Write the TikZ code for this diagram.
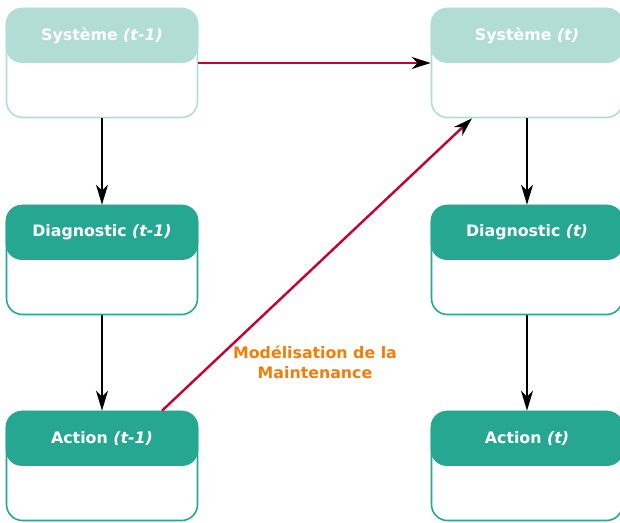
\documentclass[tikz,border=0pt]{standalone}
\usepackage{fontspec}
\setmainfont{DejaVu Sans}
\usetikzlibrary{arrows.meta,calc}
\definecolor{lightteal}{HTML}{B2DDD4}
\definecolor{darkteal}{HTML}{26A792}
\definecolor{linkred}{HTML}{C8002E}
\definecolor{labelorange}{HTML}{F07E0A}
\begin{document}
\begin{tikzpicture}[x=1pt,y=-1pt,
  boxbody/.style={draw=#1, fill=white, line width=1.6pt, rounded corners=16pt,
    minimum width=191pt, minimum height=109pt, inner sep=0pt},
  boxhead/.style={fill=#1, rounded corners=16pt, minimum width=192.6pt,
    minimum height=55pt, inner sep=0pt, text=white,
    font=\fontsize{15.8}{18}\selectfont\bfseries},
  flow/.style={line width=1.3pt, -{Stealth[length=20pt,width=12pt,inset=6pt]}},
  link/.style={draw=linkred, line width=2.4pt,
    -{Stealth[black,length=19pt,width=12pt,inset=6pt]}},
  note/.style={text=labelorange, align=center,
    font=\fontsize{15.8}{20}\selectfont\bfseries}
]
\useasboundingbox (0,0) rectangle (620,522);

% left column (t-1)
\node[boxbody=lightteal] (sys1) at (102,63) {};
\node[boxhead=lightteal, anchor=north] (sys1h) at (sys1.north) {Système \textit{(t-1)}};
\node[boxbody=darkteal] (diag1) at (102,260) {};
\node[boxhead=darkteal, anchor=north] (diag1h) at (diag1.north) {Diagnostic \textit{(t-1)}};
\node[boxbody=darkteal] (act1) at (102,466) {};
\node[boxhead=darkteal, anchor=north] (act1h) at (act1.north) {Action \textit{(t-1)}};

% right column (t)
\node[boxbody=lightteal] (sys2) at (527,63) {};
\node[boxhead=lightteal, anchor=north] (sys2h) at (sys2.north) {Système \textit{(t)}};
\node[boxbody=darkteal] (diag2) at (527,260) {};
\node[boxhead=darkteal, anchor=north] (diag2h) at (diag2.north) {Diagnostic \textit{(t)}};
\node[boxbody=darkteal] (act2) at (527,466) {};
\node[boxhead=darkteal, anchor=north] (act2h) at (act2.north) {Action \textit{(t)}};

% vertical flow
\draw[flow] (sys1.south) -- (diag1.north);
\draw[flow] (diag1.south) -- (act1.north);
\draw[flow] (sys2.south) -- (diag2.north);
\draw[flow] (diag2.south) -- (act2.north);

% links between time steps
\draw[link] (sys1.east) -- (sys2.west);
\coordinate (actout) at ($(act1.north)+(60,0)$);
\coordinate (sysin) at ($(sys2.south)+(-55,0)$);
\draw[link] (actout) -- (sysin);

\node[note] (maint) at (315,362) {Modélisation de la\\Maintenance};
\end{tikzpicture}
\end{document}
